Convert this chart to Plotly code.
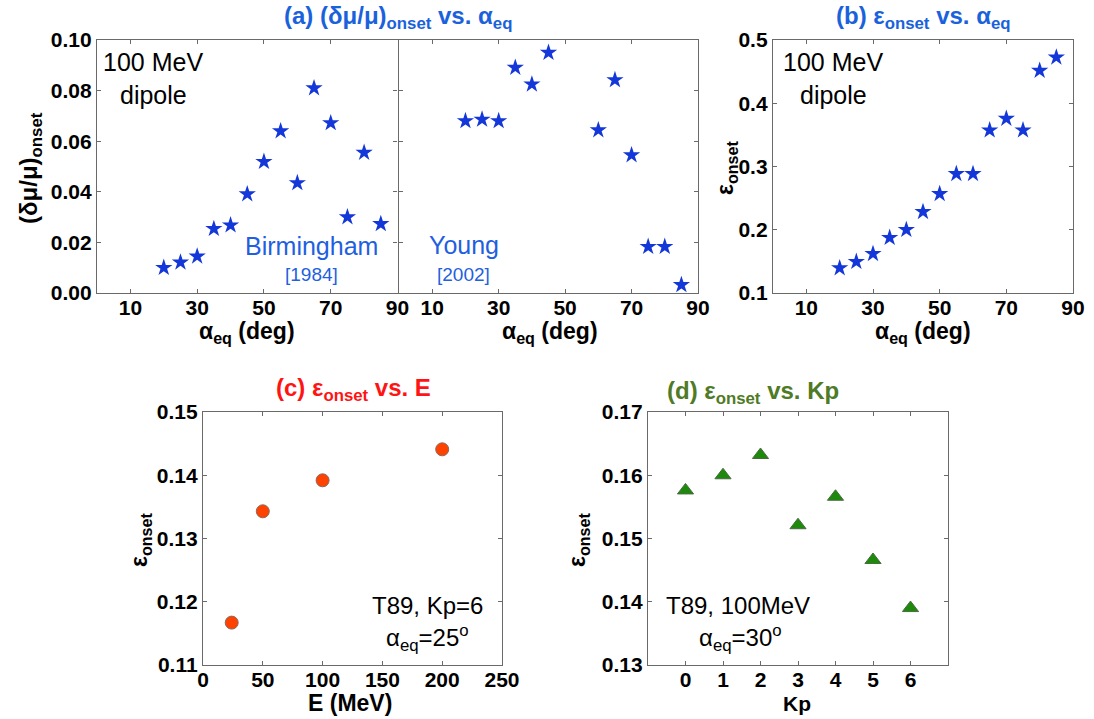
import plotly.graph_objects as go

# ---- data ----
alpha_birm = [20, 25, 30, 35, 40, 45, 50, 55, 60, 65, 70, 75, 80, 85]
dmu_birm = [0.0100, 0.0121, 0.0145, 0.0254, 0.0268, 0.0391, 0.0519, 0.0640,
            0.0435, 0.0810, 0.0672, 0.0300, 0.0555, 0.0273]

alpha_young = [20, 25, 30, 35, 40, 45, 60, 65, 70, 75, 80, 85]
dmu_young = [0.0680, 0.0686, 0.0680, 0.0891, 0.0825, 0.0950, 0.0644, 0.0842,
             0.0545, 0.0183, 0.0183, 0.0032]

alpha_eps = [20, 25, 30, 35, 40, 45, 50, 55, 60, 65, 70, 75, 80, 85]
eps_alpha = [0.1395, 0.1495, 0.162, 0.1874, 0.200, 0.2284, 0.2568, 0.2884,
             0.2884, 0.3574, 0.3758, 0.3574, 0.4516, 0.4726]

energy = [24, 50, 100, 200]
eps_energy = [0.1167, 0.1343, 0.1392, 0.1441]

kp = [0, 1, 2, 3, 4, 5, 6]
eps_kp = [0.1576, 0.1600, 0.1632, 0.1521, 0.1566, 0.1466, 0.1390]

alpha_ticks = [10, 30, 50, 70, 90]

# ---- style ----
W, H = 1094, 719
FONT = "Liberation Sans, Arial, sans-serif"
BLUE_T = "#1a62dc"
STAR = "#1337d8"
FRAME = "#6a6a6a"


def px(x):
    return x / W


def py(y):
    return 1 - y / H


fig = go.Figure()

star = dict(symbol="star", size=13, color=STAR, line=dict(width=0))
fig.add_trace(go.Scatter(x=alpha_birm, y=dmu_birm, mode="markers", marker=star,
                         xaxis="x", yaxis="y", showlegend=False))
fig.add_trace(go.Scatter(x=alpha_young, y=dmu_young, mode="markers", marker=star,
                         xaxis="x2", yaxis="y2", showlegend=False))
fig.add_trace(go.Scatter(x=alpha_eps, y=eps_alpha, mode="markers", marker=star,
                         xaxis="x3", yaxis="y3", showlegend=False))
fig.add_trace(go.Scatter(x=energy, y=eps_energy, mode="markers",
                         marker=dict(symbol="circle", size=13, color="#ff4200",
                                     line=dict(width=1, color="#8a6a60")),
                         xaxis="x4", yaxis="y4", showlegend=False))
fig.add_trace(go.Scatter(x=kp, y=eps_kp, mode="markers",
                         marker=dict(symbol="triangle-up", size=14, color="#1d8a0c",
                                     line=dict(width=1, color="#4a6a40")),
                         xaxis="x5", yaxis="y5", showlegend=False))

tickfont = dict(family=FONT, size=21, color="black", weight="bold")


def axis(domain, rng, tickvals, ticktext=None, showlabels=True, anchor=None,
         standoff=0):
    d = dict(domain=domain, range=rng, tickmode="array", tickvals=tickvals,
             showgrid=False, zeroline=False, showline=True, linecolor=FRAME,
             linewidth=1.3, mirror="ticks", ticks="inside", ticklen=4,
             tickcolor=FRAME, tickwidth=1, tickfont=tickfont, automargin=False,
             showticklabels=showlabels, fixedrange=True,
             ticklabelstandoff=standoff)
    if ticktext is not None:
        d["ticktext"] = ticktext
    if anchor:
        d["anchor"] = anchor
    return d


ya = [py(293), py(40)]
yc = [py(665), py(412)]
XS = -4

fig.update_layout(
    width=W, height=H, margin=dict(l=0, r=0, t=0, b=0, autoexpand=False),
    plot_bgcolor="white", paper_bgcolor="white",
    xaxis=axis([px(97), px(397.5)], [0, 90], alpha_ticks, anchor="y", standoff=XS),
    yaxis=axis(ya, [0, 0.10], [0, 0.02, 0.04, 0.06, 0.08, 0.10],
               ["0.00", "0.02", "0.04", "0.06", "0.08", "0.10"], anchor="x"),
    xaxis2=axis([px(399), px(698)], [0, 90], alpha_ticks, anchor="y2", standoff=XS),
    yaxis2=axis(ya, [0, 0.10], [0, 0.02, 0.04, 0.06, 0.08, 0.10],
                showlabels=False, anchor="x2"),
    xaxis3=axis([px(773), px(1073)], [0, 90], alpha_ticks, anchor="y3", standoff=XS),
    yaxis3=axis(ya, [0.1, 0.5], [0.1, 0.2, 0.3, 0.4, 0.5],
                ["0.1", "0.2", "0.3", "0.4", "0.5"], anchor="x3"),
    xaxis4=axis([px(203), px(502)], [0, 250], [0, 50, 100, 150, 200, 250],
                anchor="y4", standoff=XS),
    yaxis4=axis(yc, [0.11, 0.15], [0.11, 0.12, 0.13, 0.14, 0.15],
                ["0.11", "0.12", "0.13", "0.14", "0.15"], anchor="x4"),
    xaxis5=axis([px(648), px(948)], [-1, 7], [0, 1, 2, 3, 4, 5, 6],
                anchor="y5", standoff=XS),
    yaxis5=axis(yc, [0.13, 0.17], [0.13, 0.14, 0.15, 0.16, 0.17],
                ["0.13", "0.14", "0.15", "0.16", "0.17"], anchor="x5"),
)

ann = []


def txt(x, y, text, size, color="black", bold=False, angle=0):
    ann.append(dict(x=px(x), y=py(y), xref="paper", yref="paper", text=text,
                    showarrow=False, xanchor="center", yanchor="middle",
                    textangle=angle,
                    font=dict(family=FONT, size=size, color=color,
                              weight="bold" if bold else "normal")))


# titles
txt(398, 18, "(a) (δμ/μ)<sub>onset</sub> vs. α<sub>eq</sub>", 24, BLUE_T, True)
txt(923, 18, "(b) ε<sub>onset</sub> vs. α<sub>eq</sub>", 24, BLUE_T, True)
txt(353, 390, "(c) ε<sub>onset</sub> vs. E", 24, "#ff1414", True)
txt(753, 392, "(d) ε<sub>onset</sub> vs. Kp", 24, "#4f7a26", True)

# axis titles
ax_al = "α<sub>eq</sub> (deg)"
txt(247, 332, ax_al, 23, bold=True)
txt(550, 332, ax_al, 23, bold=True)
txt(923, 332, ax_al, 23, bold=True)
txt(350, 703, "E (MeV)", 23, bold=True)
txt(797, 703, "Kp", 21, bold=True)
txt(30, 168, "(δμ/μ)<sub>onset</sub>", 24, bold=True, angle=-90)
txt(726, 168, "ε<sub>onset</sub>", 23, bold=True, angle=-90)
txt(140, 540, "ε<sub>onset</sub>", 23, bold=True, angle=-90)
txt(578, 540, "ε<sub>onset</sub>", 23, bold=True, angle=-90)

# in-panel labels
txt(153, 62, "100 MeV", 25)
txt(153, 95, "dipole", 25)
txt(833, 62, "100 MeV", 25)
txt(833, 95, "dipole", 25)
txt(311, 246, "Birmingham", 25, "#1f5fe0")
txt(311, 274, "[1984]", 19, "#1f5fe0")
txt(464, 245, "Young", 25, "#1f5fe0")
txt(464, 274, "[2002]", 19, "#1f5fe0")
txt(427, 605, "T89, Kp=6", 24)
txt(427, 638, "α<sub>eq</sub>=25<sup>o</sup>", 24)
txt(738, 605, "T89, 100MeV", 24)
txt(740, 638, "α<sub>eq</sub>=30<sup>o</sup>", 24)

fig.update_layout(annotations=ann)

fig.write_html("out.html", config={"displayModeBar": False},
               post_script="document.body.style.margin='0px';"
                           "document.body.style.overflow='hidden';")
